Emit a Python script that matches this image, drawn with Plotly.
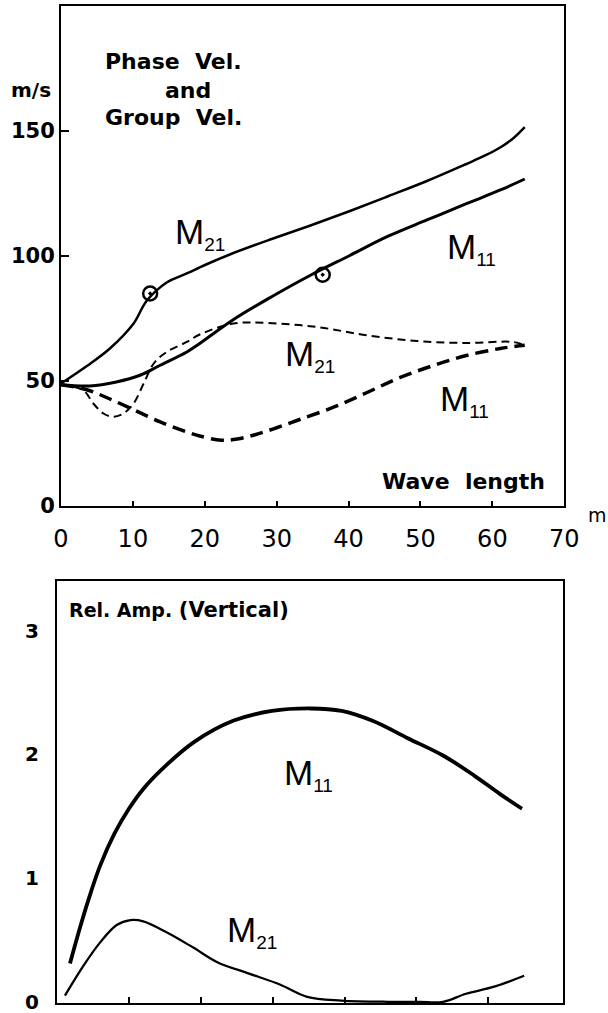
import plotly.graph_objects as go

# ---------------- data ----------------
# Upper panel: phase velocity (solid) and group velocity (dashed), m/s vs wave length (m)
x_m21_phase = [0, 3.6, 6.8, 10.1, 11.9, 14.7, 17.5, 20.1, 23.9, 29.3, 34.7, 40.1, 45.5, 50.9, 56.3, 59.0, 61.2, 63.0, 64.5]
y_m21_phase = [49, 56, 63, 73, 82, 89.4, 93, 96.5, 101.1, 106.8, 112.2, 117.9, 123.9, 130, 136.7, 140.2, 143.6, 147.3, 151.5]

x_m11_phase = [0, 4.0, 7.7, 11.0, 13.8, 17.5, 19.3, 23.9, 29.3, 34.7, 40.1, 45.5, 50.9, 56.3, 61.2, 64.5]
y_m11_phase = [48.5, 48.0, 49.6, 52.3, 56.3, 61.6, 65.0, 74.4, 83.7, 92.3, 100.1, 107.9, 114.4, 120.8, 126.5, 130.8]

x_m21_group = [0, 3.1, 4.5, 5.9, 7.3, 8.7, 10.1, 11.5, 12.9, 14.7, 17.5, 19.3, 24.0, 28.6, 35.6, 42.5, 49.5, 56.4, 62.9, 64.5]
y_m21_group = [48.5, 46.3, 41.0, 37.0, 35.7, 37.0, 41.0, 49.0, 57.0, 61.6, 65.6, 68.6, 73.0, 73.2, 71.6, 68.3, 66.0, 65.2, 65.6, 64.3]

x_m11_group = [0, 3.6, 6.8, 10.1, 13.8, 17.5, 19.3, 22.3, 24.5, 27.0, 30.0, 33.2, 37.9, 42.5, 47.1, 51.8, 56.4, 61.1, 64.5]
y_m11_group = [48.5, 46.5, 42.8, 38.5, 33.6, 29.6, 28.0, 26.3, 26.8, 28.5, 31.3, 34.6, 39.5, 45.3, 51.3, 56.2, 60.2, 63.0, 64.3]

x_marks = [12.4, 36.4]
y_marks = [85.0, 92.5]

# Lower panel: relative amplitude (vertical)
x_m11_amp = [1.8, 3.2, 4.4, 6.0, 8.0, 10.0, 12.0, 14.8, 19.1, 24.5, 29.9, 35.3, 39.6, 43.9, 48.8, 53.7, 58.0, 61.6, 64.7]
y_m11_amp = [0.31, 0.60, 0.83, 1.10, 1.36, 1.56, 1.72, 1.89, 2.10, 2.27, 2.35, 2.37, 2.35, 2.27, 2.13, 1.99, 1.83, 1.68, 1.56]

x_m21_amp = [1.1, 3.66, 6.0, 8.3, 10.2, 12.0, 15.3, 18.9, 22.3, 26.6, 31.0, 34.8, 39.6, 46.1, 50.4, 53.7, 56.9, 60.7, 65.0]
y_m21_amp = [0.05, 0.29, 0.48, 0.62, 0.66, 0.65, 0.56, 0.44, 0.32, 0.23, 0.14, 0.04, 0.01, 0.0, 0.0, 0.0, 0.065, 0.12, 0.21]

x_ticks_top = [0, 10, 20, 30, 40, 50, 60, 70]
y_ticks_top = [0, 50, 100, 150]
x_ticks_bottom = [10, 20, 30, 40, 50, 60]
y_ticks_bottom = [0, 1, 2, 3]

# ---------------- figure ----------------
fig = go.Figure()
K = "black"

fig.add_trace(go.Scatter(x=x_m21_phase, y=y_m21_phase, mode="lines", line=dict(color=K, width=2.5, shape="spline"), xaxis="x", yaxis="y"))
fig.add_trace(go.Scatter(x=x_m11_phase, y=y_m11_phase, mode="lines", line=dict(color=K, width=3, shape="spline"), xaxis="x", yaxis="y"))
fig.add_trace(go.Scatter(x=x_m21_group, y=y_m21_group, mode="lines", line=dict(color=K, width=2, shape="spline", dash="8px,5px"), xaxis="x", yaxis="y"))
fig.add_trace(go.Scatter(x=x_m11_group, y=y_m11_group, mode="lines", line=dict(color=K, width=3.5, shape="spline", dash="13px,7px"), xaxis="x", yaxis="y"))
fig.add_trace(go.Scatter(x=x_marks, y=y_marks, mode="markers", marker=dict(symbol="circle-open-dot", size=14, color=K, line=dict(width=2.5, color=K)), xaxis="x", yaxis="y"))

fig.add_trace(go.Scatter(x=x_m11_amp, y=y_m11_amp, mode="lines", line=dict(color=K, width=3.8, shape="spline"), xaxis="x2", yaxis="y2"))
fig.add_trace(go.Scatter(x=x_m21_amp, y=y_m21_amp, mode="lines", line=dict(color=K, width=2.3, shape="spline"), xaxis="x2", yaxis="y2"))

axis_common = dict(showline=True, linewidth=2, linecolor=K, mirror=True, showgrid=False, zeroline=False,
                   tickcolor=K, tickwidth=2, automargin=False, ticklabeloverflow="allow")

fig.update_layout(
    width=608, height=1013,
    margin=dict(l=0, r=0, t=0, b=0),
    paper_bgcolor="white", plot_bgcolor="white",
    showlegend=False,
    xaxis=dict(domain=[0.1003, 0.9281], range=[0, 70], tickvals=x_ticks_top, ticks="inside", ticklen=5,
               tickfont=dict(family="DejaVu Sans", size=24, color=K), ticklabelstandoff=10, anchor="y", **axis_common),
    yaxis=dict(domain=[0.5005, 0.9941], range=[0, 200], tickvals=y_ticks_top, ticks="inside", ticklen=8,
               tickfont=dict(family="DejaVu Sans", size=21, color=K, weight="bold"), ticklabelstandoff=0, anchor="x", **axis_common),
    xaxis2=dict(domain=[0.0938, 0.926], range=[0, 70.4], tickvals=x_ticks_bottom, ticks="inside", ticklen=6,
                showticklabels=False, anchor="y2", **axis_common),
    yaxis2=dict(domain=[0.0096, 0.42646], range=[-0.012, 3.40], tickvals=y_ticks_bottom, ticks="",
                tickfont=dict(family="DejaVu Sans", size=20, color=K, weight="bold"), ticklabelstandoff=12, anchor="x2", **axis_common),
)

def sub(main, s):
    return f"{main}<sub><span style='font-size:19px'>{s}</span></sub>"

mfont = dict(family="Liberation Sans", size=35, color=K)
bfont = dict(family="DejaVu Sans", size=22, color=K, weight="bold")

ann = [
    # upper panel curve labels
    dict(x=15.6, y=109, xref="x", yref="y", text=sub("M", "21"), font=mfont, xanchor="left", yanchor="middle", showarrow=False),
    dict(x=53.4, y=103, xref="x", yref="y", text=sub("M", "11"), font=mfont, xanchor="left", yanchor="middle", showarrow=False),
    dict(x=30.9, y=60, xref="x", yref="y", text=sub("M", "21"), font=mfont, xanchor="left", yanchor="middle", showarrow=False),
    dict(x=52.4, y=42, xref="x", yref="y", text=sub("M", "11"), font=mfont, xanchor="left", yanchor="middle", showarrow=False),
    # upper panel texts
    dict(x=103/608, y=1-62/1013, xref="paper", yref="paper", text="Phase  Vel.", font=bfont, xanchor="left", yanchor="middle", showarrow=False),
    dict(x=163/608, y=1-90/1013, xref="paper", yref="paper", text="and", font=bfont, xanchor="left", yanchor="middle", showarrow=False),
    dict(x=103/608, y=1-118/1013, xref="paper", yref="paper", text="Group  Vel.", font=bfont, xanchor="left", yanchor="middle", showarrow=False),
    dict(x=31/608, y=1-90/1013, xref="paper", yref="paper", text="m/s", font=dict(family="DejaVu Sans", size=20, color=K, weight="bold"), xanchor="center", yanchor="middle", showarrow=False),
    dict(x=463/608, y=1-481/1013, xref="paper", yref="paper", text="Wave  length", font=bfont, xanchor="center", yanchor="middle", showarrow=False),
    dict(x=597/608, y=1-515/1013, xref="paper", yref="paper", text="m", font=dict(family="DejaVu Sans", size=19, color=K), xanchor="center", yanchor="middle", showarrow=False),
    # lower panel
    dict(x=31.3, y=1.84, xref="x2", yref="y2", text=sub("M", "11"), font=mfont, xanchor="left", yanchor="middle", showarrow=False),
    dict(x=23.4, y=0.57, xref="x2", yref="y2", text=sub("M", "21"), font=mfont, xanchor="left", yanchor="middle", showarrow=False),
    dict(x=67/608, y=1-610/1013, xref="paper", yref="paper",
         text="Rel. Amp. <span style='font-size:21px'>(Vertical)</span>",
         font=dict(family="DejaVu Sans", size=19, color=K, weight="bold"), xanchor="left", yanchor="middle", showarrow=False),
]
fig.update_layout(annotations=ann)

fig.write_html("out.html")
